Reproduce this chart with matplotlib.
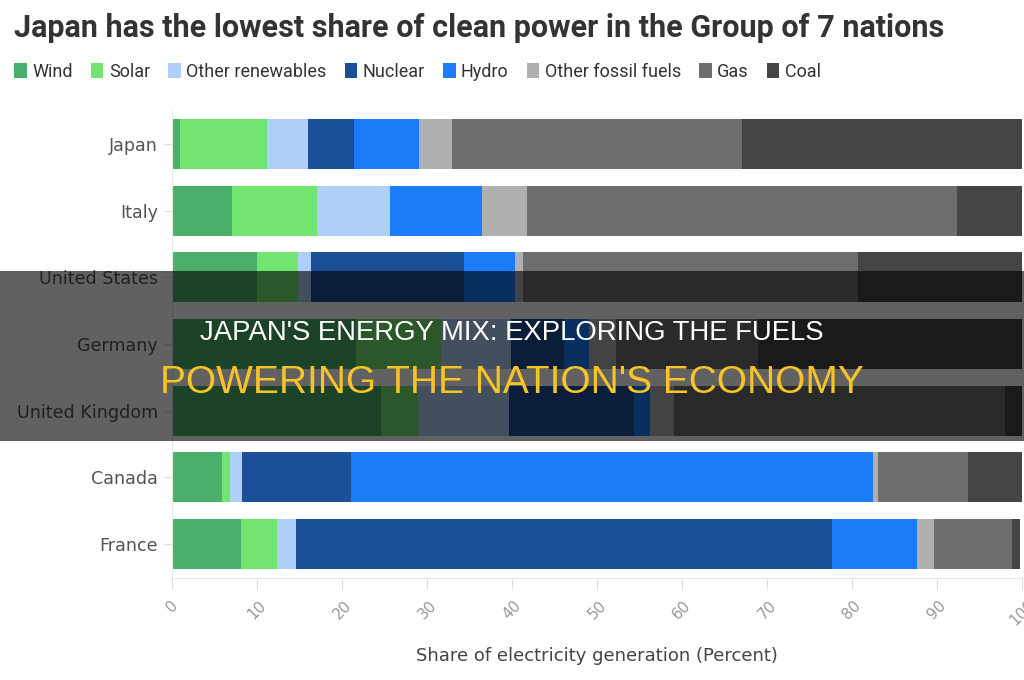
import matplotlib
matplotlib.use("Agg")
import matplotlib.pyplot as plt
from matplotlib.patches import Rectangle, Patch
import numpy as np

countries = ["Japan", "Italy", "United States", "Germany", "United Kingdom", "Canada", "France"]
sources = ["Wind", "Solar", "Other renewables", "Nuclear", "Hydro", "Other fossil fuels", "Gas", "Coal"]
wind = [0.9, 7.1, 10.0, 21.6, 24.6, 5.9, 8.1]
solar = [10.3, 10.0, 4.8, 10.0, 4.3, 0.9, 4.3]
other_ren = [4.8, 8.6, 1.6, 8.3, 10.8, 1.4, 2.2]
nuclear = [5.4, 0.0, 18.0, 6.2, 14.6, 12.9, 63.1]
hydro = [7.6, 10.8, 6.0, 3.0, 1.9, 61.4, 9.9]
other_fossil = [3.9, 5.3, 0.9, 3.1, 2.8, 0.5, 2.0]
gas = [34.2, 50.6, 39.4, 16.7, 39.0, 10.6, 9.2]
coal = [33.0, 7.7, 19.3, 31.1, 2.0, 6.4, 1.0]
xticks = list(range(0, 101, 10))

colors = ["#4aaf6a", "#72e470", "#b0cff8", "#1b4f97", "#1a7cf9", "#b0b0b0", "#6e6e6e", "#454545"]
series = [wind, solar, other_ren, nuclear, hydro, other_fossil, gas, coal]

narrow = ["Roboto", "DejaVu Sans"]

fig = plt.figure(figsize=(10.24, 6.8), dpi=100)
ax = fig.add_axes([172 / 1024, 0.15, 850 / 1024, 0.688])

y = np.arange(len(countries))
left = np.zeros(len(countries))
for name, vals, c in zip(sources, series, colors):
    vals = np.array(vals)
    ax.barh(y, vals, left=left, height=0.75, color=c, linewidth=0, label=name)
    left += vals

ax.set_xlim(0, 100)
ax.set_ylim(6.51, -0.51)
ax.set_yticks(y)
ax.set_yticklabels(countries, fontsize=12.6, color="#555555")
ax.set_xticks(xticks)
ax.set_xticklabels([str(t) for t in xticks], rotation=45, fontsize=11, color="#999999")
ax.tick_params(axis="y", length=6, color="#dddddd", pad=4)
ax.tick_params(axis="x", length=8, color="#dddddd", pad=6)
for s in ["top", "right"]:
    ax.spines[s].set_visible(False)
ax.spines["left"].set_color("#e6e6e6")
ax.spines["bottom"].set_color("#e6e6e6")
ax.set_xlabel("Share of electricity generation (Percent)", fontsize=13, color="#444444", labelpad=13)

fig.text(14 / 1024, 1 - 28 / 680, "Japan has the lowest share of clean power in the Group of 7 nations",
         fontsize=22, fontweight="bold", color="#333333", family=narrow, va="center", ha="left")

handles = [Patch(facecolor=c, edgecolor="none") for c in colors]
fig.legend(handles, sources, loc="center left", bbox_to_anchor=(-2 / 1024, 1 - 72 / 680), ncol=8,
           frameon=False, handlelength=0.7, handleheight=0.9, handletextpad=0.3, columnspacing=1.0,
           prop={"family": narrow, "size": 13}, labelcolor="#333333")

# banner overlay
fig.patches.append(Rectangle((0, 1 - 441 / 680), 1, 170 / 680, transform=fig.transFigure,
                             facecolor="black", alpha=0.62, zorder=5, linewidth=0))
fig.text(0.5, 1 - 333 / 680, "JAPAN'S ENERGY MIX: EXPLORING THE FUELS", fontsize=19.8,
         family="Liberation Sans", color="white", ha="center", va="center", zorder=6)
fig.text(0.5, 1 - 383 / 680, "POWERING THE NATION'S ECONOMY", fontsize=28,
         family="Liberation Sans", color="#f6c426", ha="center", va="center", zorder=6)

fig.savefig("out.png", dpi=100, facecolor="white")
